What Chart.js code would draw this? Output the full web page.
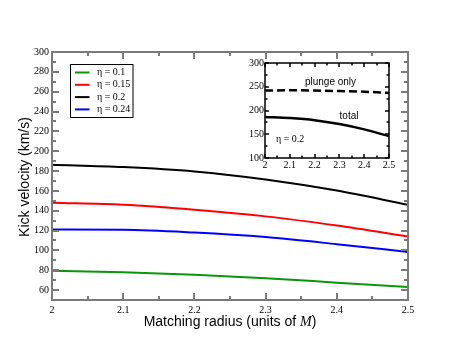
<!DOCTYPE html>
<html><head><meta charset="utf-8">
<script src="https://cdn.jsdelivr.net/npm/chart.js@4"></script>
<style>
html,body{margin:0;padding:0;background:#fff;}
#wrap{position:relative;width:458px;height:354px;overflow:hidden;}
#main{position:absolute;left:0;top:0;}
#inset{position:absolute;left:230px;top:50px;}
</style></head>
<body><div id="wrap"><canvas id="main" width="458" height="354"></canvas><canvas id="inset" width="170" height="125"></canvas></div>
<script>
// ---- data ----
const radius = [2.0, 2.1, 2.2, 2.3, 2.4, 2.5];
const seriesNames = ['η = 0.1', 'η = 0.15', 'η = 0.2', 'η = 0.24'];
const kickEta010 = [79.5, 78.0, 75.5, 72.0, 67.5, 63.0];
const kickEta015 = [148.0, 146.0, 141.0, 134.3, 125.0, 114.0];
const kickEta020 = [186.3, 184.0, 179.6, 171.5, 160.3, 146.0];
const kickEta024 = [121.0, 120.8, 118.0, 113.4, 106.3, 98.5];
const insetPlungeOnly = [242.0, 242.5, 242.0, 241.0, 239.5, 237.0];
const insetTotal = [186.3, 184.0, 179.6, 171.5, 160.3, 146.0];
const xTickValues = [2.0, 2.1, 2.2, 2.3, 2.4, 2.5];
const xTickLabels = ['2', '2.1', '2.2', '2.3', '2.4', '2.5'];
const yTickValues = [60, 80, 100, 120, 140, 160, 180, 200, 220, 240, 260, 280, 300];
const insetYTickValues = [100, 150, 200, 250, 300];
const insetYTickLabels = ['100', '150', '200', '250', '300'];

const seriesColors = ['#0a960a', '#ff0000', '#000000', '#0000ff'];
const seriesData = [kickEta010, kickEta015, kickEta020, kickEta024];

function pts(xs, ys){ return xs.map((x,i)=>({x:x, y:ys[i]})); }
function mids(arr){ const m=[]; for(let i=0;i<arr.length-1;i++) m.push((arr[i]+arr[i+1])/2); return m; }

function framePlugin(id, color, lw, majL, minL, xMinor, yMinor){
  return {
    id: id,
    afterDatasetsDraw(chart){
      const {ctx, chartArea:a, scales:{x, y}} = chart;
      ctx.save();
      ctx.strokeStyle = color; ctx.lineWidth = lw;
      ctx.beginPath();
      const xt = x.ticks.map(t=>t.value), yt = y.ticks.map(t=>t.value);
      const tick = (vals, len, horiz) => {
        vals.forEach(v=>{
          if (horiz){
            const px = Math.round(x.getPixelForValue(v));
            ctx.moveTo(px, a.bottom); ctx.lineTo(px, a.bottom-len);
            ctx.moveTo(px, a.top); ctx.lineTo(px, a.top+len);
          } else {
            const py = Math.round(y.getPixelForValue(v));
            if (py < a.top-0.5 || py > a.bottom+0.5) return;
            ctx.moveTo(a.left, py); ctx.lineTo(a.left+len, py);
            ctx.moveTo(a.right, py); ctx.lineTo(a.right-len, py);
          }
        });
      };
      tick(xt, majL, true); tick(xMinor(xt), minL, true);
      tick(yt, majL, false); tick(yMinor(yt), minL, false);
      ctx.stroke();
      ctx.strokeRect(a.left, a.top, a.right-a.left, a.bottom-a.top);
      ctx.restore();
    }
  };
}

const mainDecor = {
  id: 'mainDecor',
  afterDraw(chart){
    const ctx = chart.ctx;
    ctx.save();
    ctx.fillStyle = '#000';
    // y title
    ctx.save();
    ctx.translate(25, 177);
    ctx.rotate(-Math.PI/2);
    ctx.font = '14px "Liberation Sans"';
    ctx.textAlign = 'center'; ctx.textBaseline = 'middle';
    ctx.fillText('Kick velocity (km/s)', 0, 0);
    ctx.restore();
    // x title
    const parts = [['Matching radius (units of ', '14px "Liberation Sans"'], ['M', 'italic 14px "Liberation Serif"'], [')', '14px "Liberation Sans"']];
    let tot = 0;
    parts.forEach(p=>{ ctx.font = p[1]; tot += ctx.measureText(p[0]).width; });
    let xx = 230 - tot/2;
    ctx.textBaseline = 'middle'; ctx.textAlign = 'left';
    parts.forEach(p=>{ ctx.font = p[1]; ctx.fillText(p[0], xx, 322); xx += ctx.measureText(p[0]).width; });
    // legend
    const bx = 70.5, by = 64.5, bw = 62.5, bh = 53;
    ctx.fillStyle = '#fff'; ctx.fillRect(bx, by, bw, bh);
    ctx.strokeStyle = '#000'; ctx.lineWidth = 1; ctx.strokeRect(bx, by, bw, bh);
    ctx.font = '10px "Liberation Serif"';
    chart.data.datasets.forEach((ds, i)=>{
      const ly = 72.5 + i*12.3;
      ctx.strokeStyle = ds.borderColor; ctx.lineWidth = 2;
      ctx.beginPath(); ctx.moveTo(75, ly); ctx.lineTo(89.5, ly); ctx.stroke();
      ctx.fillStyle = '#000'; ctx.fillText(ds.label, 97, ly);
    });
    ctx.restore();
  }
};

const insetDecor = {
  id: 'insetDecor',
  afterDraw(chart){
    const ctx = chart.ctx;
    ctx.save();
    ctx.fillStyle = '#000';
    ctx.font = '10px "Liberation Sans"';
    ctx.textAlign = 'center'; ctx.textBaseline = 'middle';
    ctx.fillText('plunge only', 100.5, 32);
    ctx.fillText('total', 119, 66);
    ctx.font = '10px "Liberation Serif"';
    ctx.textAlign = 'left';
    ctx.fillText('η = 0.2', 46, 89);
    ctx.restore();
  }
};

Chart.defaults.animation = false;

new Chart(document.getElementById('main'), {
  type: 'line',
  data: {
    datasets: seriesData.map((d, i)=>({
      label: seriesNames[i], data: pts(radius, d),
      borderColor: seriesColors[i], borderWidth: 2, pointRadius: 0,
      cubicInterpolationMode: 'monotone', fill: false
    }))
  },
  options: {
    responsive: false, animation: false,
    layout: {padding: {left: 0, right: 50, top: 52, bottom: 0}},
    plugins: {legend: {display: false}, tooltip: {enabled: false}},
    scales: {
      x: {
        type: 'linear', min: 2.0, max: 2.5,
        afterBuildTicks: s => { s.ticks = xTickValues.map(v=>({value:v})); },
        afterFit: s => { s.height = 54; },
        grid: {display: false, drawTicks: false}, border: {display: false},
        ticks: {padding: 4, color: '#000', maxRotation: 0, autoSkip: false,
          font: {family: '"Liberation Serif"', size: 10},
          callback: (v, i) => xTickLabels[i]}
      },
      y: {
        type: 'linear', min: 50, max: 300,
        afterBuildTicks: s => { s.ticks = yTickValues.map(v=>({value:v})); },
        afterFit: s => { s.width = 52; },
        grid: {display: false, drawTicks: false}, border: {display: false},
        ticks: {padding: 3, color: '#000', autoSkip: false,
          font: {family: '"Liberation Serif"', size: 10},
          callback: (v) => String(v)}
      }
    }
  },
  plugins: [
    framePlugin('mainFrame', '#7a7a7a', 2, 7, 4,
      xt => mids(xt),
      yt => mids(yt).concat([yt[0]-10])),
    mainDecor
  ]
});

new Chart(document.getElementById('inset'), {
  type: 'line',
  data: {
    datasets: [
      {label: 'plunge only', data: pts(radius, insetPlungeOnly), borderColor: '#000', borderWidth: 2.5,
       borderDash: [8, 4], pointRadius: 0, cubicInterpolationMode: 'monotone', fill: false},
      {label: 'total', data: pts(radius, insetTotal), borderColor: '#000', borderWidth: 2.5,
       pointRadius: 0, cubicInterpolationMode: 'monotone', fill: false}
    ]
  },
  options: {
    responsive: false, animation: false,
    layout: {padding: {left: 0, right: 11, top: 13, bottom: 0}},
    plugins: {legend: {display: false}, tooltip: {enabled: false}},
    scales: {
      x: {
        type: 'linear', min: 2.0, max: 2.5,
        afterBuildTicks: s => { s.ticks = xTickValues.map(v=>({value:v})); },
        afterFit: s => { s.height = 17; },
        grid: {display: false, drawTicks: false}, border: {display: false},
        ticks: {padding: 1, color: '#000', maxRotation: 0, autoSkip: false,
          font: {family: '"Liberation Serif"', size: 10},
          callback: (v, i) => xTickLabels[i]}
      },
      y: {
        type: 'linear', min: 100, max: 300,
        afterBuildTicks: s => { s.ticks = insetYTickValues.map(v=>({value:v})); },
        afterFit: s => { s.width = 35; },
        grid: {display: false, drawTicks: false}, border: {display: false},
        ticks: {padding: 1, color: '#000', autoSkip: false,
          font: {family: '"Liberation Serif"', size: 10},
          callback: (v, i) => insetYTickLabels[i]}
      }
    }
  },
  plugins: [
    framePlugin('insetFrame', '#000', 1.5, 4, 2.5, xt => mids(xt), yt => mids(yt)),
    insetDecor
  ]
});
</script>
</body></html>
